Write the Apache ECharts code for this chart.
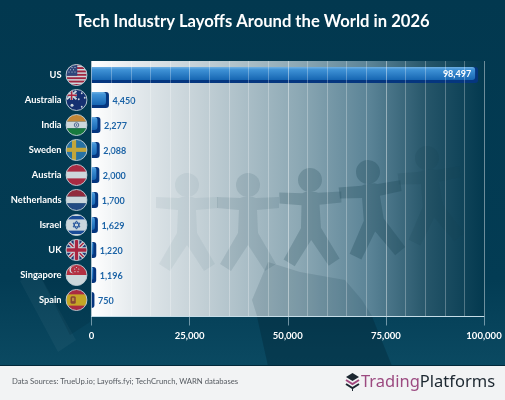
<!DOCTYPE html>
<html style="height: 100%;">
<head>
    <meta charset="UTF-8">
    <script src="https://cdn.jsdelivr.net/npm/echarts/dist/echarts.min.js"></script>
</head>
<body style="height: 100%; margin: 0;">
    <div id="chart" style="width: 505px; height: 400px;"></div>

    <script type="text/javascript">
        // Data
        var countries = ['US', 'Australia', 'India', 'Sweden', 'Austria', 'Netherlands', 'Israel', 'UK', 'Singapore', 'Spain'];
        var layoffs = [98497, 4450, 2277, 2088, 2000, 1700, 1629, 1220, 1196, 750];
        var axisTicks = [0, 25000, 50000, 75000, 100000];

        // Flag artwork, 60x60 viewBox, clipped to a ringed circle below
        var flagArt = {
            'US': '<rect width="60" height="60" fill="#fff"/><g fill="#c8213c"><rect width="60" height="5"/><rect y="9" width="60" height="5"/><rect y="18" width="60" height="5"/><rect y="27" width="60" height="5"/><rect y="36" width="60" height="5"/><rect y="45" width="60" height="5"/><rect y="54" width="60" height="6"/></g><rect width="32" height="32" fill="#3a4a86"/><g fill="#fff"><circle cx="10" cy="10" r="1.5"/><circle cx="18" cy="10" r="1.5"/><circle cx="26" cy="10" r="1.5"/><circle cx="14" cy="16" r="1.5"/><circle cx="22" cy="16" r="1.5"/><circle cx="10" cy="22" r="1.5"/><circle cx="18" cy="22" r="1.5"/><circle cx="26" cy="22" r="1.5"/></g>',
            'Australia': '<rect width="60" height="60" fill="#1a2f78"/><path d="M4 6L30 28M30 6L4 28" stroke="#fff" stroke-width="5"/><path d="M17 4V30M3 17H31" stroke="#fff" stroke-width="7"/><path d="M17 4V30M3 17H31" stroke="#d4213d" stroke-width="4"/><g fill="#fff"><circle cx="18" cy="44" r="4"/><circle cx="44" cy="12" r="2.4"/><circle cx="44" cy="48" r="2.4"/><circle cx="36" cy="28" r="2.4"/><circle cx="52" cy="24" r="2.4"/></g>',
            'India': '<rect width="60" height="21" fill="#f39a2f"/><rect y="21" width="60" height="18" fill="#fff"/><rect y="39" width="60" height="21" fill="#1d8a3a"/><circle cx="30" cy="30" r="6" fill="none" stroke="#3a4a86" stroke-width="2"/><circle cx="30" cy="30" r="2" fill="#3a4a86"/>',
            'Sweden': '<rect width="60" height="60" fill="#2f7fb8"/><rect x="18" width="11" height="60" fill="#f4c136"/><rect y="24" width="60" height="11" fill="#f4c136"/>',
            'Austria': '<rect width="60" height="60" fill="#d3283f"/><rect y="21" width="60" height="18" fill="#fff"/>',
            'Netherlands': '<rect width="60" height="21" fill="#b5283a"/><rect y="21" width="60" height="18" fill="#fff"/><rect y="39" width="60" height="21" fill="#2b4f8f"/>',
            'Israel': '<rect width="60" height="60" fill="#fff"/><rect y="6" width="60" height="9" fill="#1f4fa8"/><rect y="45" width="60" height="9" fill="#1f4fa8"/><path d="M30 19L39 35H21ZM30 41L21 25H39Z" fill="none" stroke="#1f4fa8" stroke-width="2.4"/>',
            'UK': '<rect width="60" height="60" fill="#27397f"/><path d="M0 0L60 60M60 0L0 60" stroke="#fff" stroke-width="10"/><path d="M0 0L60 60M60 0L0 60" stroke="#d4213d" stroke-width="4"/><path d="M30 0V60M0 30H60" stroke="#fff" stroke-width="15"/><path d="M30 0V60M0 30H60" stroke="#d4213d" stroke-width="9"/>',
            'Singapore': '<rect width="60" height="30" fill="#e02f3f"/><rect y="30" width="60" height="30" fill="#fff"/><circle cx="20" cy="16" r="9" fill="#fff"/><circle cx="24" cy="16" r="9" fill="#e02f3f"/><g fill="#fff"><circle cx="30" cy="10" r="1.6"/><circle cx="36" cy="14" r="1.6"/><circle cx="34" cy="21" r="1.6"/><circle cx="26" cy="21" r="1.6"/><circle cx="25" cy="14" r="1.6"/></g>',
            'Spain': '<rect width="60" height="60" fill="#d3283f"/><rect y="15" width="60" height="30" fill="#f5c11c"/><rect x="14" y="20" width="14" height="20" rx="4" fill="#a8482c"/><rect x="18" y="24" width="6" height="9" fill="#e8a33c"/>'
        };

        function flagImage(name) {
            var svg = '<svg xmlns="http://www.w3.org/2000/svg" width="120" height="120" viewBox="0 0 60 60">' +
                '<defs><clipPath id="c"><circle cx="30" cy="30" r="28"/></clipPath></defs>' +
                '<g clip-path="url(#c)">' + flagArt[name] + '</g>' +
                '<circle cx="30" cy="30" r="28" fill="none" stroke="#eef3f6" stroke-width="2.5"/></svg>';
            return 'image://data:image/svg+xml;charset=utf-8,' + encodeURIComponent(svg);
        }

        // Paper people behind the bars: head at (x, y), turned by rot
        function person(x, y, rot, opacity) {
            return {
                type: 'group', x: x, y: y, rotation: rot, z: 1, silent: true,
                children: [
                    { type: 'circle', shape: { cx: 0, cy: 0, r: 12 }, style: { fill: '#16404f', opacity: opacity } },
                    { type: 'polygon', shape: { points: [[-5, 12], [5, 12], [8, 13], [31, 12], [31, 23], [9, 25], [10, 48], [28, 79], [17, 86], [0, 60], [-17, 86], [-28, 79], [-10, 48], [-9, 25], [-31, 23], [-31, 12], [-8, 13]] }, style: { fill: '#16404f', opacity: opacity } }
                ]
            };
        }

        var chart = echarts.init(document.getElementById('chart'), null, { renderer: 'canvas' });
        var labelFont = 'Lato';

        var option = {
            backgroundColor: {
                type: 'linear', x: 0, y: 0, x2: 0, y2: 1,
                colorStops: [
                    { offset: 0, color: '#02384f' },
                    { offset: 0.7, color: '#033c54' },
                    { offset: 0.92, color: '#0b4a62' },
                    { offset: 1, color: '#0b4a62' }
                ]
            },
            animation: false,
            title: {
                text: 'Tech Industry Layoffs Around the World in 2026',
                left: 'center',
                top: 8,
                textStyle: { color: '#ffffff', fontFamily: labelFont, fontWeight: 'bold', fontSize: 16.6 }
            },
            // grid 0 is the panel with the gridlines, grid 1 holds the ten bars
            grid: [
                {
                    left: 91.5, width: 392.5, top: 61, height: 255.5, show: true, borderWidth: 0,
                    backgroundColor: {
                        type: 'linear', x: 0, y: 0, x2: 1, y2: 0,
                        colorStops: [
                            { offset: 0, color: '#ffffff' },
                            { offset: 0.1, color: '#e6ebee' },
                            { offset: 0.28, color: '#c3d0d6' },
                            { offset: 0.53, color: '#8ca8b4' },
                            { offset: 0.71, color: '#5a8396' },
                            { offset: 0.86, color: '#245468' },
                            { offset: 1, color: '#03394f' }
                        ]
                    }
                },
                { left: 91.5, width: 392.5, top: 62.5, height: 250 }
            ],
            xAxis: [
                {
                    type: 'value', gridIndex: 0, min: 0, max: 100000, interval: 25000, z: 6,
                    axisLine: { show: true, lineStyle: { color: '#c6dde8', width: 1 } },
                    axisTick: { show: true, length: 9, lineStyle: { color: 'rgba(198,221,232,0.55)', width: 1 } },
                    axisLabel: {
                        color: '#ffffff', fontFamily: labelFont, fontWeight: 'bold', fontSize: 9.5, margin: 14,
                        formatter: function (v) { return axisTicks.indexOf(v) >= 0 ? v.toLocaleString('en-US') : ''; }
                    },
                    splitLine: { show: true, lineStyle: { color: 'rgba(255,255,255,0.42)', width: 1 } },
                    minorTick: { show: false, splitNumber: 5 },
                    minorSplitLine: { show: true, lineStyle: { color: 'rgba(255,255,255,0.28)', width: 1 } }
                },
                { type: 'value', gridIndex: 1, min: 0, max: 100000, show: false }
            ],
            yAxis: [
                { type: 'value', gridIndex: 0, min: 0, max: 1, show: false },
                {
                    type: 'category', gridIndex: 1, data: countries, inverse: true, z: 6,
                    axisLine: { show: false },
                    axisTick: { show: false },
                    axisLabel: { color: '#ffffff', fontFamily: labelFont, fontWeight: 'bold', fontSize: 9.3, margin: 30 }
                }
            ],
            series: [
                {
                    // dark side of each bar
                    name: 'Layoffs',
                    type: 'bar',
                    xAxisIndex: 1, yAxisIndex: 1,
                    data: layoffs,
                    barWidth: 16,
                    z: 3,
                    itemStyle: { color: '#05367f', borderRadius: [0, 3, 3, 0] }
                },
                {
                    // lit face of each bar plus its value
                    type: 'custom',
                    xAxisIndex: 1, yAxisIndex: 1,
                    data: layoffs.map(function (v, i) { return [v, i]; }),
                    encode: { x: 0, y: 1 },
                    z: 4,
                    silent: true,
                    clip: false,
                    renderItem: function (params, api) {
                        var end = api.coord([api.value(0), api.value(1)]);
                        var start = api.coord([0, api.value(1)]);
                        var w = Math.max(end[0] - start[0] - 3, 0);
                        var big = params.dataIndex === 0;
                        return {
                            type: 'group',
                            children: [
                                {
                                    type: 'rect',
                                    shape: { x: start[0], y: end[1] - 8, width: w, height: 13, r: [0, 3, 3, 0] },
                                    style: {
                                        fill: {
                                            type: 'linear', x: 0, y: 0, x2: 0, y2: 1,
                                            colorStops: [
                                                { offset: 0, color: '#6fb0e2' },
                                                { offset: 0.2, color: '#3f92d6' },
                                                { offset: 1, color: '#1666b2' }
                                            ]
                                        }
                                    }
                                },
                                {
                                    type: 'text',
                                    style: {
                                        text: api.value(0).toLocaleString('en-US'),
                                        x: big ? end[0] - 7 : end[0] + 3.5,
                                        y: end[1] + (big ? -1 : 1),
                                        align: big ? 'right' : 'left',
                                        verticalAlign: 'middle',
                                        fill: big ? '#ffffff' : '#1b63a6',
                                        font: 'bold 9px ' + labelFont
                                    }
                                }
                            ]
                        };
                    }
                },
                {
                    // flags sit just left of the zero line
                    type: 'scatter',
                    xAxisIndex: 1, yAxisIndex: 1,
                    silent: true,
                    clip: false,
                    z: 5,
                    data: countries.map(function (c) {
                        return { value: [0, c], symbol: flagImage(c) };
                    }),
                    symbolSize: 22.5,
                    symbolOffset: [-15, 0]
                }
            ],
            graphic: [
                // sleeve and hand below the chain
                { type: 'polygon', z: 1, silent: true, shape: { points: [[20, 281], [37, 270], [76, 340], [58, 352]] }, style: { fill: '#ffffff', opacity: 0.04 } },
                { type: 'polygon', z: 1, silent: true, shape: { points: [[37, 270], [90, 270], [90, 322], [70, 335]] }, style: { fill: '#01293b', opacity: 0.22 } },
                { type: 'polygon', z: 1, silent: true, shape: { points: [[252, 300], [268, 262], [300, 272], [345, 280], [362, 300], [372, 316], [257, 316]] }, style: { fill: '#03283a', opacity: 0.12 } },
                { type: 'polygon', z: 1, silent: true, shape: { points: [[257, 316.5], [372, 316.5], [392, 366], [268, 366]] }, style: { fill: '#03283a', opacity: 0.42 } },
                // paper chain
                person(187, 185, 0, 0.06),
                person(248, 185, 0, 0.12),
                person(310, 180, 0.02, 0.22),
                person(368, 172, 0.12, 0.28),
                person(427, 158, 0.12, 0.14),
                // footer
                { type: 'rect', z: 2, silent: true, shape: { x: 0, y: 366, width: 505, height: 34 }, style: { fill: '#f2f3f4' } },
                { type: 'rect', z: 2, silent: true, shape: { x: 0, y: 365, width: 505, height: 1 }, style: { fill: '#02293a' } },
                {
                    type: 'text', z: 3, x: 12, y: 382,
                    style: { text: 'Data Sources: TrueUp.io; Layoffs.fyi; TechCrunch, WARN databases', fill: '#555a60', font: '7.7px ' + labelFont, verticalAlign: 'middle' }
                },
                // logo
                { type: 'polygon', z: 3, shape: { points: [[352.5, 373], [359, 377], [352.5, 381], [346, 377]] }, style: { fill: '#1c2730' } },
                { type: 'polyline', z: 3, shape: { points: [[346, 380], [352.5, 384], [359, 380]] }, style: { stroke: '#a3477f', lineWidth: 2, fill: 'none' } },
                { type: 'polyline', z: 3, shape: { points: [[346, 384], [352.5, 388], [359, 384]] }, style: { stroke: '#1c2730', lineWidth: 2, fill: 'none' } },
                { type: 'rect', z: 3, shape: { x: 352, y: 388, width: 1, height: 3 }, style: { fill: '#1c2730' } },
                {
                    type: 'text', z: 3, x: 361, y: 382,
                    style: {
                        text: '{a|Trading}{b|Platforms}',
                        verticalAlign: 'middle',
                        rich: {
                            a: { fill: '#9c4a80', font: '16.5px "Noto Sans"' },
                            b: { fill: '#1c2730', font: '16.5px "Noto Sans"' }
                        }
                    }
                }
            ]
        };

        chart.setOption(option);
        window.addEventListener('resize', chart.resize);
    </script>
</body>
</html>
